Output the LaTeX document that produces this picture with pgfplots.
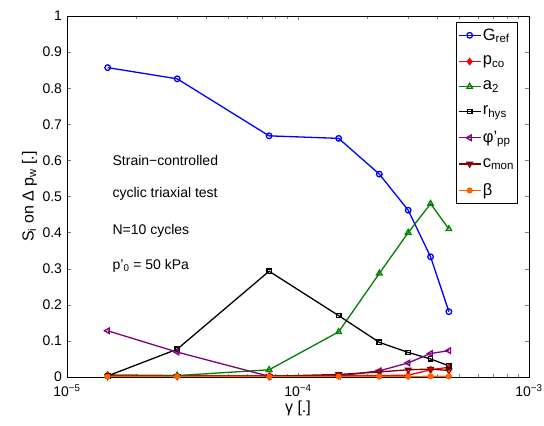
\documentclass[border=0pt]{standalone}
\usepackage{fontspec}
\setmainfont{Liberation Sans}
\usepackage{pgfplots}
\pgfplotsset{compat=1.18}
\usetikzlibrary{calc}

\definecolor{mgreen}{rgb}{0,0.5,0}
\definecolor{mpurple}{rgb}{0.5,0,0.5}
\definecolor{mdarkred}{rgb}{0.5,0,0}
\definecolor{morange}{rgb}{1,0.38,0}

\begin{document}
\begin{tikzpicture}
\fontsize{14}{16}\selectfont
\begin{axis}[
    scale only axis,
    width=462pt, height=361pt,
    xmode=log,
    xmin=1e-5, xmax=1e-3,
    ymin=0, ymax=1,
    xtick={1e-5,1e-4,1e-3},
    xticklabels={10\textsuperscript{−5},10\textsuperscript{−4},10\textsuperscript{−3}},
    ytick={0,0.1,...,1},
    yticklabel style={/pgf/number format/fixed, /pgf/number format/precision=1},
    /pgf/number format/assume math mode=true,
    tick label style={font=\fontsize{14}{16}\selectfont},
    xticklabel style={yshift=-2.5pt},
    label style={font=\fontsize{16}{18}\selectfont},
    xlabel={γ [.]},
    ylabel={S\textsubscript{i} on Δ p\textsubscript{w} [.]},
    ylabel shift=-4pt,
    xlabel shift=-5pt,
    tick align=inside,
    line width=0.6pt,
    every axis plot/.append style={line width=1.3pt, mark size=2.8pt,
      legend image code/.code={\draw[mark repeat=2,mark phase=2]
        plot coordinates {(0pt,0pt) (11pt,0pt) (22pt,0pt)};}},
    legend cell align=left,
    legend style={at={(0.976,0.983)}, anchor=north east, font=\fontsize{16.5}{18}\selectfont,
        row sep=10pt, draw=black, line width=0.7pt, inner xsep=2pt, inner ysep=4pt,
        nodes={inner xsep=1.5pt}},
]
% G_ref
\addplot[color=blue, mark=o, mark options={solid}] coordinates {
(1.5e-5,0.857) (3e-5,0.826) (7.5e-5,0.668) (1.5e-4,0.661)
(2.25e-4,0.562) (3e-4,0.462) (3.75e-4,0.333) (4.5e-4,0.181)};
% p_co
\addplot[color=red, mark=diamond*, mark size=3pt] coordinates {
(1.5e-5,0.006) (3e-5,0.004) (7.5e-5,0.003) (1.5e-4,0.004)
(2.25e-4,0.004) (3e-4,0.005) (3.75e-4,0.020) (4.5e-4,0.027)};
% a_2
\addplot[color=mgreen, mark=triangle, mark size=3.2pt] coordinates {
(1.5e-5,0.003) (3e-5,0.004) (7.5e-5,0.020) (1.5e-4,0.125)
(2.25e-4,0.287) (3e-4,0.400) (3.75e-4,0.480) (4.5e-4,0.410)};
% r_hys
\addplot[color=black, mark=square, mark size=2.2pt] coordinates {
(1.5e-5,0.003) (3e-5,0.077) (7.5e-5,0.293) (1.5e-4,0.170)
(2.25e-4,0.096) (3e-4,0.068) (3.75e-4,0.050) (4.5e-4,0.031)};
% phi'_pp
\addplot[color=mpurple, mark=triangle, mark options={rotate=90}, mark size=3.2pt] coordinates {
(1.5e-5,0.128) (3e-5,0.069) (7.5e-5,0.002) (1.5e-4,0.003)
(2.25e-4,0.017) (3e-4,0.039) (3.75e-4,0.065) (4.5e-4,0.073)};
% c_mon
\addplot[color=mdarkred, mark=triangle, mark options={rotate=180}, mark size=3.2pt] coordinates {
(1.5e-5,0.002) (3e-5,0.002) (7.5e-5,0.002) (1.5e-4,0.007)
(2.25e-4,0.014) (3e-4,0.020) (3.75e-4,0.022) (4.5e-4,0.018)};
% beta
\addplot[color=morange, mark=*, mark size=2.4pt] coordinates {
(1.5e-5,0.001) (3e-5,0.001) (7.5e-5,0.001) (1.5e-4,0.001)
(2.25e-4,0.001) (3e-4,0.001) (3.75e-4,0.002) (4.5e-4,0.002)};
\legend{G\textsubscript{ref}, p\textsubscript{co}, a\textsubscript{2}, r\textsubscript{hys},
  φ'\textsubscript{pp}, c\textsubscript{mon}, β}
\node[anchor=west, font=\fontsize{14}{16}\selectfont] at (axis cs:1.5e-5,0.601) {Strain−controlled};
\node[anchor=west, font=\fontsize{14}{16}\selectfont] at (axis cs:1.5e-5,0.507) {cyclic triaxial test};
\node[anchor=west, font=\fontsize{14}{16}\selectfont] at (axis cs:1.5e-5,0.404) {N=10 cycles};
\node[anchor=west, font=\fontsize{14}{16}\selectfont] at (axis cs:1.5e-5,0.307) {p'\textsubscript{0} = 50 kPa};
\end{axis}
\pgfresetboundingbox
\path ($(current axis.south west)+(-67pt,-49pt)$) rectangle ($(current axis.north east)+(15pt,16pt)$);
\end{tikzpicture}
\end{document}
